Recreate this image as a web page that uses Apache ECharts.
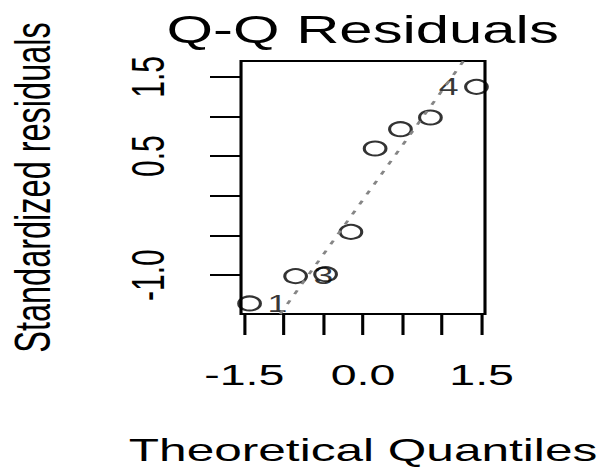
<!DOCTYPE html>
<html>
<head>
<meta charset="utf-8">
<script src="https://cdn.jsdelivr.net/npm/echarts@6/dist/echarts.min.js"></script>
<style>
  html, body { margin: 0; padding: 0; background: #fff; overflow: hidden; }
  #chart { width: 389px; height: 471px; transform: scaleX(1.55); transform-origin: 0 0; }
</style>
</head>
<body>
<div id="chart"></div>
<script>
// Theoretical quantiles (x) and standardized residuals (y), sorted by x
var theoreticalQ = [-1.434, -0.852, -0.473, -0.153, 0.153, 0.473, 0.852, 1.434];
var stdResiduals = [-1.357, -1.013, -0.988, -0.455, 0.597, 0.840, 0.988, 1.374];
var pointIds = ['1', '3', '', '', '', '', '', '4'];
var labelSide = ['right', 'right', '', '', '', '', '', 'left'];
// reference (qq) line end points
var refLineX = [-1.047, 1.270];
var refLineY = [-1.49, 1.70];
// axes
var xRange = [-1.542, 1.542];
var yRange = [-1.49, 1.70];
var xTickValues = [-1.5, -1.0, -0.5, 0.0, 0.5, 1.0, 1.5];
var xTickLabels = [-1.5, 0.0, 1.5];
var yTickValues = [-1.0, -0.5, 0.0, 0.5, 1.0, 1.5];
var yTickLabels = [-1.0, 0.5, 1.5];

var FONT = 'Liberation Sans';
var chart = echarts.init(document.getElementById('chart'), null, { renderer: 'svg' });

var scatterData = theoreticalQ.map(function (x, i) {
  var item = { value: [x, stdResiduals[i]] };
  if (pointIds[i]) {
    item.label = { show: true, formatter: pointIds[i], position: labelSide[i] };
  }
  return item;
});

chart.setOption({
  animation: false,
  title: {
    text: 'Q-Q Residuals',
    left: 229, top: 5, textAlign: 'center',
    textStyle: { fontFamily: FONT, fontSize: 38.6, fontWeight: 'normal', color: '#000' }
  },
  grid: { left: 155.5, top: 61, width: 157.4, height: 253, containLabel: false, outerBoundsMode: 'none',
    show: true, borderColor: '#000', borderWidth: 2, backgroundColor: 'transparent' },
  xAxis: {
    type: 'value', min: xRange[0], max: xRange[1], position: 'bottom',
    name: 'Theoretical Quantiles', nameLocation: 'middle', nameGap: 120,
    nameTextStyle: { fontFamily: FONT, fontSize: 32, color: '#000' },
    axisLine: { show: false, onZero: false },
    splitLine: { show: false },
    axisTick: { show: true, length: 21, customValues: xTickValues, lineStyle: { color: '#000', width: 2 } },
    axisLabel: { customValues: xTickLabels, margin: 46, fontFamily: FONT, fontSize: 30, color: '#000',
      formatter: function (v) { return v.toFixed(1); } }
  },
  yAxis: {
    type: 'value', min: yRange[0], max: yRange[1], position: 'left',
    name: 'Standardized residuals', nameLocation: 'middle', nameGap: 118, nameRotate: 90,
    nameTextStyle: { fontFamily: FONT, fontSize: 32.5, color: '#000' },
    axisLine: { show: false, onZero: false },
    splitLine: { show: false },
    axisTick: { show: true, length: 20, customValues: yTickValues, lineStyle: { color: '#000', width: 2 } },
    axisLabel: { customValues: yTickLabels, margin: 45, rotate: 90, fontFamily: FONT, fontSize: 30, color: '#000',
      formatter: function (v) { return v.toFixed(1); } }
  },
  series: [
    {
      type: 'scatter',
      data: scatterData,
      symbol: 'circle',
      symbolSize: 14,
      itemStyle: { color: 'rgba(0,0,0,0)', borderColor: '#000', borderWidth: 2 },
      label: { show: false, fontFamily: FONT, fontSize: 23, color: '#000', distance: 3.5 },
      emphasis: { disabled: true },
      z: 3
    },
    {
      type: 'line',
      data: refLineX.map(function (x, i) { return [x, refLineY[i]]; }),
      showSymbol: false,
      lineStyle: { color: '#858585', width: 2, type: [4, 7] },
      emphasis: { disabled: true },
      z: 4
    }
  ]
});
</script>
</body>
</html>
